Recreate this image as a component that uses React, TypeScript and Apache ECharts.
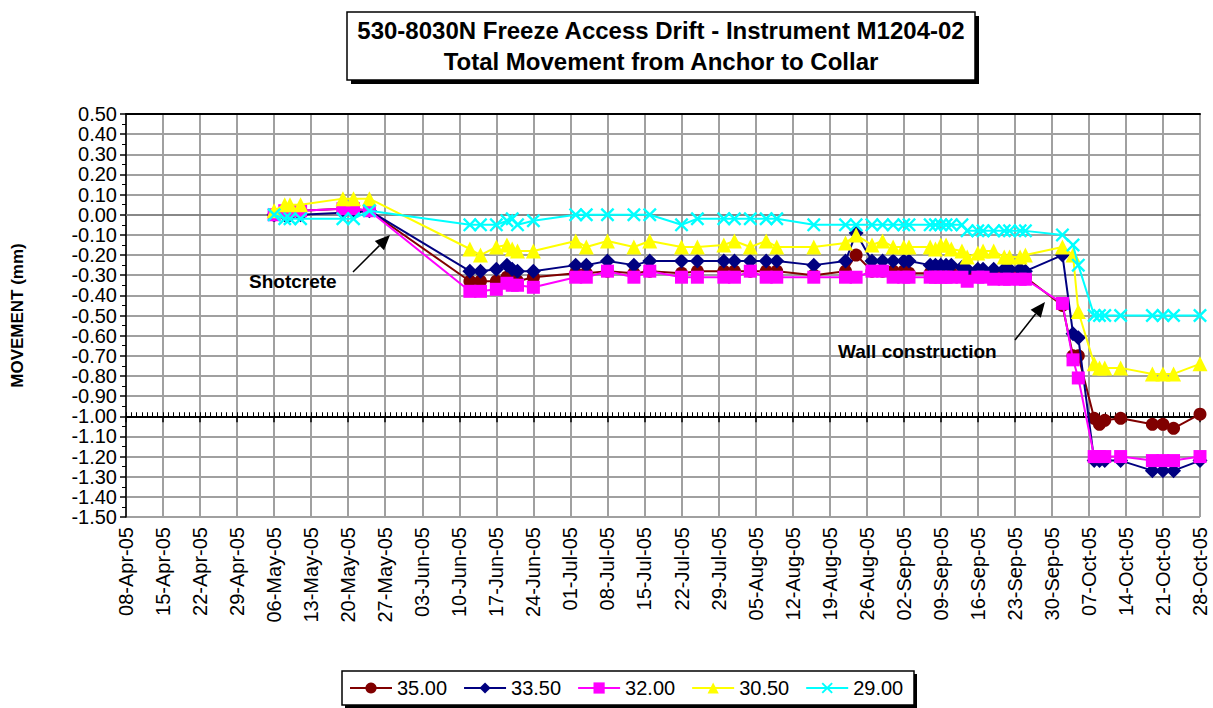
import React, { useEffect, useRef } from "react";
import * as echarts from "echarts";

const START = Date.UTC(2005, 3, 8); // 08-Apr-05
const END_DAY = 203; // 28-Oct-05

const dates = [
  "2005-05-06", "2005-05-08", "2005-05-09", "2005-05-11", "2005-05-19", "2005-05-21", "2005-05-24",
  "2005-06-12", "2005-06-14", "2005-06-17", "2005-06-19", "2005-06-20", "2005-06-21", "2005-06-24",
  "2005-07-02", "2005-07-04", "2005-07-08", "2005-07-13", "2005-07-16", "2005-07-22", "2005-07-25",
  "2005-07-30", "2005-08-01", "2005-08-04", "2005-08-07", "2005-08-09", "2005-08-16",
  "2005-08-22", "2005-08-24", "2005-08-27", "2005-08-29", "2005-08-31", "2005-09-02", "2005-09-03",
  "2005-09-07", "2005-09-08", "2005-09-09", "2005-09-10", "2005-09-11", "2005-09-13", "2005-09-14",
  "2005-09-16", "2005-09-17", "2005-09-19", "2005-09-21", "2005-09-22", "2005-09-24", "2005-09-25",
  "2005-10-02", "2005-10-04", "2005-10-05", "2005-10-08", "2005-10-09", "2005-10-10", "2005-10-13",
  "2005-10-19", "2005-10-21", "2005-10-23", "2005-10-28",
];

const s3500 = [
  0.0, 0.02, 0.02, 0.02, 0.03, 0.03, 0.02,
  -0.33, -0.33, -0.33, -0.31, -0.32, -0.33, -0.31,
  -0.29, -0.29, -0.28, -0.29, -0.28, -0.29, -0.28, -0.28, -0.28, -0.28, -0.28, -0.28, -0.3,
  -0.28, -0.2, -0.28, -0.28, -0.28, -0.28, -0.29, -0.29, -0.29, -0.28, -0.28, -0.29, -0.29, -0.29,
  -0.29, -0.29, -0.29, -0.3, -0.3, -0.3, -0.31,
  -0.45, -0.7, -0.7, -1.01, -1.04, -1.02, -1.01, -1.04, -1.04, -1.06, -0.99,
];

const s3350 = [
  0.0, 0.0, 0.0, 0.0, 0.01, 0.01, 0.02,
  -0.28, -0.28, -0.27, -0.25, -0.27, -0.28, -0.28,
  -0.25, -0.25, -0.23, -0.25, -0.23, -0.23, -0.23, -0.23, -0.23, -0.23, -0.23, -0.23, -0.25,
  -0.23, -0.09, -0.23, -0.23, -0.23, -0.23, -0.23, -0.25, -0.25, -0.25, -0.25, -0.25, -0.26, -0.27,
  -0.27, -0.27, -0.27, -0.27, -0.27, -0.27, -0.28,
  -0.2, -0.59, -0.61, -1.22, -1.22, -1.22, -1.22, -1.27, -1.27, -1.27, -1.22,
];

const s3200 = [
  0.0, 0.02, 0.02, 0.02, 0.03, 0.03, 0.02,
  -0.38, -0.38, -0.37, -0.34, -0.35, -0.35, -0.36,
  -0.31, -0.31, -0.28, -0.31, -0.28, -0.31, -0.31, -0.31, -0.31, -0.28, -0.31, -0.31, -0.31,
  -0.31, -0.31, -0.28, -0.28, -0.31, -0.31, -0.31, -0.31, -0.31, -0.31, -0.31, -0.31, -0.31, -0.33,
  -0.31, -0.31, -0.32, -0.32, -0.32, -0.32, -0.32,
  -0.44, -0.72, -0.81, -1.2, -1.2, -1.2, -1.2, -1.22, -1.22, -1.22, -1.2,
];

const s3050 = [
  0.02, 0.05, 0.05, 0.05, 0.08, 0.08, 0.08,
  -0.17, -0.2, -0.16, -0.15, -0.17, -0.18, -0.18,
  -0.13, -0.16, -0.13, -0.16, -0.13, -0.16, -0.16, -0.15, -0.13, -0.16, -0.13, -0.16, -0.16,
  -0.14, -0.1, -0.15, -0.13, -0.16, -0.16, -0.16, -0.16, -0.17, -0.15, -0.15, -0.17, -0.18, -0.21,
  -0.19, -0.18, -0.18, -0.21, -0.21, -0.21, -0.2,
  -0.16, -0.2, -0.48, -0.74, -0.76, -0.76, -0.76, -0.79, -0.79, -0.79, -0.74,
];

const s2900 = [
  0.0, -0.02, -0.02, -0.02, -0.02, -0.02, 0.02,
  -0.05, -0.05, -0.05, -0.03, -0.02, -0.05, -0.03,
  0.0, 0.0, 0.0, 0.0, 0.0, -0.05, -0.02, -0.02, -0.02, -0.02, -0.02, -0.02, -0.05,
  -0.05, -0.05, -0.05, -0.05, -0.05, -0.05, -0.05, -0.05, -0.05, -0.05, -0.05, -0.05, -0.05, -0.08,
  -0.08, -0.08, -0.08, -0.08, -0.08, -0.08, -0.08,
  -0.1, -0.15, -0.25, -0.5, -0.5, -0.5, -0.5, -0.5, -0.5, -0.5, -0.5,
];

const seriesNames = ["35.00", "33.50", "32.00", "30.50", "29.00"];
const seriesValues = [s3500, s3350, s3200, s3050, s2900];
const seriesColors = ["#800000", "#000080", "#FF00FF", "#FFFF00", "#00FFFF"];

const titleLines = [
  "530-8030N Freeze Access Drift - Instrument M1204-02",
  "Total Movement from Anchor to Collar",
];
const yAxisTitle = "MOVEMENT (mm)";
const annotations = ["Shotcrete", "Wall construction"];

const MONTHS = ["Jan", "Feb", "Mar", "Apr", "May", "Jun", "Jul", "Aug", "Sep", "Oct", "Nov", "Dec"];
const FONT = '"Liberation Sans", Arial, sans-serif';

function dayOf(d: string): number {
  const [y, m, dd] = d.split("-").map(Number);
  return Math.round((Date.UTC(y, m - 1, dd) - START) / 86400000);
}
function fmtDay(day: number): string {
  const dt = new Date(START + Math.round(day) * 86400000);
  const dd = String(dt.getUTCDate()).padStart(2, "0");
  return dd + "-" + MONTHS[dt.getUTCMonth()] + "-" + String(dt.getUTCFullYear()).slice(2);
}

const X_SYMBOL =
  "path://M0,1.2L1.2,0L5,3.8L8.8,0L10,1.2L6.2,5L10,8.8L8.8,10L5,6.2L1.2,10L0,8.8L3.8,5Z";
const symbols = ["circle", "diamond", "rect", "triangle", X_SYMBOL];
const symbolSizes = [13, 15, 13, 15, 14];

function arrow(x1: number, y1: number, x2: number, y2: number) {
  const dx = x2 - x1;
  const dy = y2 - y1;
  const len = Math.sqrt(dx * dx + dy * dy);
  const ux = dx / len;
  const uy = dy / len;
  const nx = -uy;
  const ny = ux;
  const L = 15;
  const W = 6.5;
  const bx = x2 - ux * L;
  const by = y2 - uy * L;
  return [
    { type: "line", z: 20, shape: { x1, y1, x2: bx, y2: by }, style: { stroke: "#000", lineWidth: 1.5 } },
    {
      type: "polygon",
      z: 20,
      shape: { points: [[x2, y2], [bx + nx * W, by + ny * W], [bx - nx * W, by - ny * W]] },
      style: { fill: "#000" },
    },
  ];
}

export default function App() {
  const ref = useRef<HTMLDivElement>(null);

  useEffect(() => {
    if (!ref.current) return;
    const chart = echarts.init(ref.current, undefined, { renderer: "svg" });

    const gridLeft = 126;
    const gridTop = 114;
    const gridW = 1074;
    const gridH = 403;

    const xBase = {
      type: "value",
      min: 0,
      max: END_DAY,
      interval: 7,
      gridIndex: 0,
    };

    const series = seriesNames.map((name, i) => ({
      name,
      type: "line",
      xAxisIndex: 0,
      yAxisIndex: 0,
      data: dates.map((d, k) => [dayOf(d), seriesValues[i][k]]),
      symbol: symbols[i],
      symbolSize: symbolSizes[i],
      symbolKeepAspect: true,
      showSymbol: true,
      showAllSymbol: true,
      lineStyle: { color: seriesColors[i], width: 2 },
      itemStyle: { color: seriesColors[i], borderWidth: 0 },
      emphasis: { disabled: true },
      z: 3 + i,
    }));

    const annotFont = 'bold 19px "Liberation Sans", Arial, sans-serif';

    const option: any = {
      animation: false,
      backgroundColor: "#fff",
      textStyle: { fontFamily: FONT },
      grid: {
        left: gridLeft,
        top: gridTop,
        width: gridW,
        height: gridH,
        containLabel: false,
        outerBoundsMode: "none",
      },
      xAxis: [
        {
          ...xBase,
          position: "bottom",
          axisLine: { show: true, lineStyle: { color: "#808080", width: 1.5 } },
          axisTick: { show: false },
          axisLabel: {
            rotate: 90,
            fontSize: 20,
            fontFamily: FONT,
            color: "#000",
            margin: 10,
            showMinLabel: true,
            showMaxLabel: true,
            formatter: (v: number) => fmtDay(v),
          },
          splitLine: { show: true, lineStyle: { color: "#a0a0a0", width: 2 } },
        },
        {
          ...xBase,
          position: "bottom",
          offset: -(gridH / 4),
          axisLine: { show: true, onZero: false, lineStyle: { color: "#000", width: 2 } },
          axisTick: { show: true, inside: false, length: 6, lineStyle: { color: "#000", width: 1.5 } },
          axisLabel: { show: false },
          splitLine: { show: false },
        },
        {
          ...xBase,
          interval: 1,
          position: "bottom",
          offset: -(gridH / 4),
          axisLine: { show: false, onZero: false },
          axisTick: { show: true, inside: true, length: 4, lineStyle: { color: "#000", width: 1 } },
          axisLabel: { show: false },
          splitLine: { show: false },
        },
        {
          ...xBase,
          position: "top",
          axisLine: { show: true, onZero: false, lineStyle: { color: "#000", width: 2 } },
          axisTick: { show: false },
          axisLabel: { show: false },
          splitLine: { show: false },
        },
      ],
      yAxis: {
        type: "value",
        min: -1.5,
        max: 0.5,
        interval: 0.1,
        name: yAxisTitle,
        nameLocation: "middle",
        nameGap: 100,
        nameTextStyle: { fontSize: 17, fontWeight: "bold", color: "#000", fontFamily: FONT },
        axisLine: { show: true, onZero: false, lineStyle: { color: "#000", width: 1.5 } },
        axisTick: { show: true, length: 6, lineStyle: { color: "#000", width: 1.5 } },
        minorTick: { show: true, splitNumber: 2, length: 4, lineStyle: { color: "#000", width: 1 } },
        axisLabel: {
          fontSize: 20,
          fontFamily: FONT,
          color: "#000",
          margin: 9,
          formatter: (v: number) => (Math.abs(v) < 1e-9 ? "0.00" : v.toFixed(2)),
        },
        splitLine: { show: true, lineStyle: { color: "#a0a0a0", width: 2 } },
      },
      legend: {
        data: seriesNames,
        left: 349,
        top: 678,
        orient: "horizontal",
        padding: 0,
        itemWidth: 42,
        itemHeight: 14,
        itemGap: 16,
        z: 10,
        textStyle: { fontSize: 20, color: "#000", fontFamily: FONT },
      },
      graphic: [
        { type: "rect", z: 1, shape: { x: 351, y: 16, width: 628, height: 68 }, style: { fill: "#000" } },
        {
          type: "rect",
          z: 2,
          shape: { x: 347, y: 12, width: 628, height: 68 },
          style: { fill: "#fff", stroke: "#000", lineWidth: 1.5 },
        },
        {
          type: "text",
          z: 3,
          style: {
            x: 661,
            y: 30,
            text: titleLines[0],
            fill: "#000",
            font: 'bold 24px "Liberation Sans", Arial, sans-serif',
            align: "center",
            verticalAlign: "middle",
          },
        },
        {
          type: "text",
          z: 3,
          style: {
            x: 661,
            y: 61,
            text: titleLines[1],
            fill: "#000",
            font: 'bold 24px "Liberation Sans", Arial, sans-serif',
            align: "center",
            verticalAlign: "middle",
          },
        },
        { type: "rect", z: 1, shape: { x: 345, y: 674, width: 572, height: 34 }, style: { fill: "#000" } },
        {
          type: "rect",
          z: 2,
          shape: { x: 342, y: 671, width: 572, height: 34 },
          style: { fill: "#fff", stroke: "#000", lineWidth: 1.5 },
        },
        {
          type: "text",
          z: 20,
          style: {
            x: 249,
            y: 281,
            text: annotations[0],
            fill: "#000",
            font: annotFont,
            align: "left",
            verticalAlign: "middle",
          },
        },
        ...arrow(353, 272, 390, 235),
        {
          type: "text",
          z: 20,
          style: {
            x: 838,
            y: 351,
            text: annotations[1],
            fill: "#000",
            font: annotFont,
            align: "left",
            verticalAlign: "middle",
          },
        },
        ...arrow(1015, 340, 1045, 302),
      ],
      series,
    };

    chart.setOption(option);
    return () => {
      chart.dispose();
    };
  }, []);

  return (
    <div
      ref={ref}
      style={{ position: "fixed", left: 0, top: 0, width: 1213, height: 708, background: "#fff" }}
    />
  );
}
